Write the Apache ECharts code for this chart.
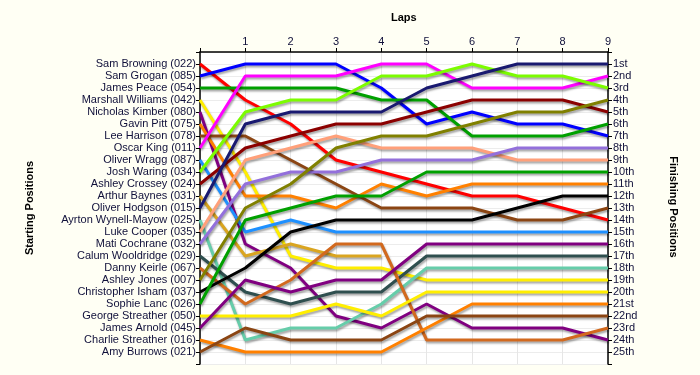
<!DOCTYPE html>
<html>
<head>
<meta charset="utf-8">
<script src="https://cdn.jsdelivr.net/npm/echarts@6/dist/echarts.min.js"></script>
<style>
html,body{margin:0;padding:0;background:#fffff4;}
#c{width:700px;height:375px;}
</style>
</head>
<body>
<div id="c"></div>
<script>
// Categories
const startNames = ['Sam Browning (022)','Sam Grogan (085)','James Peace (054)','Marshall Williams (042)','Nicholas Kimber (080)','Gavin Pitt (075)','Lee Harrison (078)','Oscar King (011)','Oliver Wragg (087)','Josh Waring (034)','Ashley Crossey (024)','Arthur Baynes (031)','Oliver Hodgson (015)','Ayrton Wynell-Mayow (025)','Luke Cooper (035)','Mati Cochrane (032)','Calum Wooldridge (029)','Danny Keirle (067)','Ashley Jones (007)','Christopher Isham (037)','Sophie Lanc (026)','George Streather (050)','James Arnold (045)','Charlie Streather (016)','Amy Burrows (021)'];
const finishLabels = ['1st','2nd','3rd','4th','5th','6th','7th','8th','9th','10th','11th','12th','13th','14th','15th','16th','17th','18th','19th','20th','21st','22nd','23rd','24th','25th'];
const lapTicks = ['1','2','3','4','5','6','7','8','9'];

// Positions at laps 0..9 for each driver (in starting order)
const samBrowning     = [1,4,6,9,10,11,12,12,13,14];
const samGrogan       = [2,1,1,1,3,6,5,6,6,7];
const jamesPeace      = [3,3,3,3,4,4,7,7,7,6];
const marshallWilliams= [4,10,17,18,18,19,19,19,19,19];
const nicholasKimber  = [5,16,18,22,23,21,23,23,23,24];
const gavinPitt       = [6,12,12,13,11,12,11,11,11,11];
const leeHarrison     = [7,7,9,11,13,13,13,14,14,13];
const oscarKing       = [8,2,2,2,1,1,3,3,3,2];
const oliverWragg     = [9,15,14,15,15,15,15,15,15,15];
const joshWaring      = [10,5,4,4,2,2,1,2,2,3];
const ashleyCrossey   = [11,8,7,6,6,5,4,4,4,5];
const arthurBaynes    = [12,17,16,17,17];
const oliverHodgson   = [13,6,5,5,5,3,2,1,1,1];
const ayrtonWynell    = [14,24,23,23,21,18,18,18,18,18];
const lukeCooper      = [15,9,8,7,8,8,8,9,9,9];
const matiCochrane    = [16,11,10,10,9,9,9,8,8,8];
const calumWooldridge = [17,20,21,20,20,17,17,17,17,17];
const dannyKeirle     = [18,21,19,16,16,24,24,24,24,23];
const ashleyJones     = [19,13,11,8,7,7,6,5,5,4];
const christopherIsham= [20,18,15,14,14,14,14,13,12,12];
const sophieLanc      = [21,14,13,12,12,10,10,10,10,10];
const georgeStreather = [22,22,22,21,22,20,20,20,20,20];
const jamesArnold     = [23,19,20,19,19,16,16,16,16,16];
const charlieStreather= [24,25,25,25,25,23,21,21,21,21];
const amyBurrows      = [25,23,24,24,24,22,22,22,22,22];

const driverPositions = [samBrowning,samGrogan,jamesPeace,marshallWilliams,nicholasKimber,gavinPitt,leeHarrison,oscarKing,oliverWragg,joshWaring,ashleyCrossey,arthurBaynes,oliverHodgson,ayrtonWynell,lukeCooper,matiCochrane,calumWooldridge,dannyKeirle,ashleyJones,christopherIsham,sophieLanc,georgeStreather,jamesArnold,charlieStreather,amyBurrows];
const driverColors = ['#ff0000','#0000ff','#00a000','#ffee00','#800080','#ff8000','#8b4513','#ff00ff','#1e90ff','#7cfc00','#8b0000','#daa520','#191970','#66cdaa','#ffa07a','#9370db','#2f4f4f','#d2691e','#808000','#000000','#00a000','#ffee00','#800080','#ff8000','#8b4513'];

const FONT = 'Liberation Sans, Arial, sans-serif';
const TXT = '#10103a';

const series = driverPositions.map((arr, i) => ({
  type: 'line',
  name: startNames[i],
  data: arr.map((p, lap) => [lap, p]),
  symbol: 'none',
  showSymbol: false,
  color: driverColors[i],
  lineStyle: {
    width: 3,
    color: driverColors[i],
    shadowColor: 'rgba(0,0,0,0.35)',
    shadowBlur: 2,
    shadowOffsetX: 1,
    shadowOffsetY: 2
  },
  emphasis: {disabled: true},
  silent: true,
  animation: false
}));

const chart = echarts.init(document.getElementById('c'), null, {renderer: 'canvas'});
chart.setOption({
  backgroundColor: '#fffff4',
  animation: false,
  grid: {left: 200, right: 92, top: 52, height: 312, show: true, backgroundColor: '#ffffff', borderWidth: 0},
  xAxis: {
    type: 'value', position: 'top', min: 0, max: 9, interval: 1,
    axisLine: {show: true, onZero: false, lineStyle: {color: '#000', width: 1.5}},
    axisTick: {show: true, length: 4, lineStyle: {color: '#000'}},
    axisLabel: {fontFamily: FONT, fontSize: 11, color: TXT, margin: 5,
      formatter: v => (v >= 1 && v <= 9) ? lapTicks[v - 1] : ''},
    splitLine: {show: true, lineStyle: {color: '#e6e6e6', width: 1}}
  },
  yAxis: [
    {
      type: 'value', position: 'left', inverse: true, min: 0, max: 26, interval: 1,
      axisLine: {show: true, onZero: false, lineStyle: {color: '#000', width: 1.5}},
      axisTick: {show: true, length: 4, lineStyle: {color: '#000'}},
      axisLabel: {fontFamily: FONT, fontSize: 11, color: TXT, margin: 4,
        formatter: v => (v >= 1 && v <= 25) ? startNames[v - 1] : ''},
      splitLine: {show: true, lineStyle: {color: '#ececec', width: 1}}
    },
    {
      type: 'value', position: 'right', inverse: true, min: 0, max: 26, interval: 1,
      axisLine: {show: true, onZero: false, lineStyle: {color: '#000', width: 1.5}},
      axisTick: {show: true, length: 4, lineStyle: {color: '#000'}},
      axisLabel: {fontFamily: FONT, fontSize: 11, color: TXT, margin: 5,
        formatter: v => (v >= 1 && v <= 25) ? finishLabels[v - 1] : ''},
      splitLine: {show: false}
    }
  ],
  graphic: [
    {type: 'text', left: 391, top: 12, style: {text: 'Laps', font: 'bold 11px ' + FONT, fill: '#000'}},
    {type: 'text', x: 30, y: 208, rotation: Math.PI / 2,
      style: {text: 'Starting Positions', font: 'bold 11px ' + FONT, fill: '#000', align: 'center', verticalAlign: 'middle'}},
    {type: 'text', x: 673, y: 207, rotation: -Math.PI / 2,
      style: {text: 'Finishing Positions', font: 'bold 11px ' + FONT, fill: '#000', align: 'center', verticalAlign: 'middle'}}
  ],
  series: series
});
</script>
</body>
</html>
